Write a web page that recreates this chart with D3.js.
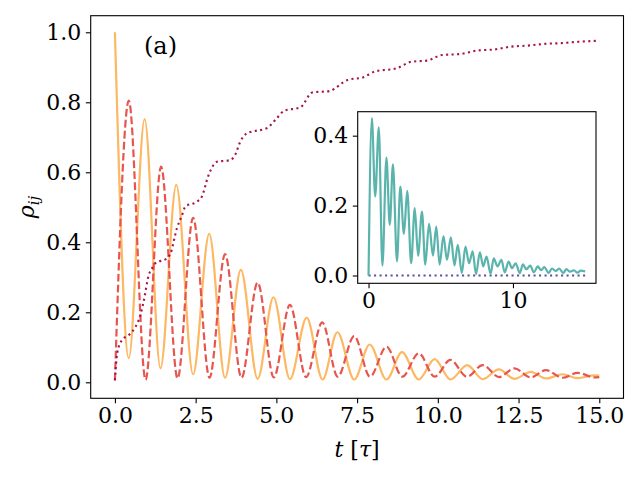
<!DOCTYPE html>
<html>
<head>
<meta charset="utf-8">
<script src="https://cdn.jsdelivr.net/npm/d3@7"></script>
<style>
  body { margin: 0; background: #fff; }
  svg { display: block; }
  text { font-family: "DejaVu Serif", serif; fill: #000; }
</style>
</head>
<body>
<script>
// main panel: populations (t, value)
var siteA = [ // solid orange
  [0, 1.0], [0.43, 0.069], [0.92, 0.752], [1.41, 0.040], [1.90, 0.564], [2.42, 0.023],
  [2.92, 0.424], [3.41, 0.013], [3.90, 0.321], [4.42, 0.010], [4.91, 0.243], [5.42, 0.009],
  [5.94, 0.185], [6.43, 0.008], [6.89, 0.143], [7.41, 0.008], [7.89, 0.108], [8.41, 0.008],
  [8.89, 0.086], [9.41, 0.008], [9.90, 0.066], [10.39, 0.008], [10.91, 0.049], [11.39, 0.009],
  [11.89, 0.037], [12.37, 0.010], [12.88, 0.030], [13.35, 0.011], [13.86, 0.023], [14.33, 0.012],
  [14.85, 0.020], [15.0, 0.019]
];
var siteB = [ // dashed red
  [0, 0.005], [0.43, 0.805], [0.95, 0.007], [1.43, 0.616], [1.94, 0.011], [2.42, 0.470],
  [2.93, 0.013], [3.41, 0.366], [3.92, 0.013], [4.42, 0.285], [4.92, 0.014], [5.42, 0.221],
  [5.92, 0.015], [6.42, 0.171], [6.90, 0.016], [7.41, 0.132], [7.90, 0.016], [8.41, 0.102],
  [8.90, 0.016], [9.41, 0.083], [9.90, 0.016], [10.39, 0.064], [10.90, 0.016], [11.39, 0.049],
  [11.90, 0.015], [12.37, 0.040], [12.88, 0.014], [13.35, 0.035], [13.86, 0.013], [14.33, 0.027],
  [14.86, 0.014], [15.0, 0.015]
];
var sink = [ // dotted crimson
  [0, 0.006], [0.07, 0.083], [0.22, 0.121], [0.43, 0.135], [0.64, 0.159], [0.79, 0.192],
  [0.89, 0.231], [1.05, 0.307], [1.15, 0.326], [1.25, 0.340], [1.61, 0.354], [1.72, 0.368],
  [1.92, 0.440], [2.08, 0.478], [2.18, 0.502], [2.54, 0.516], [2.69, 0.530], [2.90, 0.592],
  [3.16, 0.630], [3.57, 0.635], [3.72, 0.649], [3.88, 0.687], [4.08, 0.711], [4.24, 0.716],
  [4.70, 0.726], [5.02, 0.755], [5.23, 0.775], [5.75, 0.786], [6.11, 0.828], [6.64, 0.832],
  [7.21, 0.864], [7.68, 0.871], [8.05, 0.888], [8.72, 0.897], [9.19, 0.916], [9.66, 0.919],
  [10.13, 0.935], [10.70, 0.938], [11.23, 0.948], [11.75, 0.951], [12.27, 0.959], [12.79, 0.962],
  [13.31, 0.967], [13.83, 0.969], [14.36, 0.973], [15.0, 0.976]
];
// inset: coherence and a flat zero line
var coherence = [
  [0, 0.0], [0.23, 0.450], [0.46, 0.226], [0.71, 0.424], [0.96, 0.028], [1.24, 0.337],
  [1.47, 0.145], [1.69, 0.318], [1.97, 0.040], [2.20, 0.254], [2.45, 0.119], [2.68, 0.242],
  [2.95, 0.035], [3.20, 0.193], [3.43, 0.056], [3.70, 0.183], [3.93, 0.031], [4.19, 0.148],
  [4.46, 0.057], [4.69, 0.140], [4.92, 0.031], [5.19, 0.113], [5.43, 0.045], [5.70, 0.109],
  [5.95, 0.029], [6.18, 0.088], [6.46, 0.007], [6.71, 0.083], [6.96, 0.035], [7.21, 0.069],
  [7.44, 0.004], [7.71, 0.066], [7.94, 0.026], [8.17, 0.054], [8.45, 0.005], [8.67, 0.049],
  [8.93, 0.026], [9.20, 0.045], [9.43, 0.009], [9.70, 0.040], [9.93, 0.021], [10.19, 0.035],
  [10.47, 0.007], [10.69, 0.032], [10.92, 0.018], [11.20, 0.028], [11.45, 0.009], [11.72, 0.026],
  [11.95, 0.015], [12.17, 0.024], [12.47, 0.007], [12.70, 0.020], [12.97, 0.013], [13.20, 0.020],
  [13.48, 0.007], [13.70, 0.018], [13.95, 0.011], [14.23, 0.015], [14.46, 0.008], [14.70, 0.014],
  [15.0, 0.012]
];
var zeroLine = [[0, 0], [15, 0]];

var xTicks = [0, 2.5, 5, 7.5, 10, 12.5, 15];
var yTicks = [0, 0.2, 0.4, 0.6, 0.8, 1.0];
var insetXTicks = [0, 10];
var insetYTicks = [0, 0.2, 0.4];

var width = 640, height = 480;
var svg = d3.select("body").append("svg")
    .attr("width", width)
    .attr("height", height);

var box = {left: 90.7, right: 623.5, top: 15.7, bottom: 398.3};
var ibox = {left: 357.7, right: 596, top: 111.7, bottom: 283.3};

var x = d3.scaleLinear().domain([-0.75, 15.75]).range([box.left, box.right]);
var y = d3.scaleLinear().domain([-0.0457, 1.0474]).range([box.bottom, box.top]);
var xi = d3.scaleLinear().domain([-0.75, 15.75]).range([ibox.left, ibox.right]);
var yi = d3.scaleLinear().domain([-0.0223, 0.4686]).range([ibox.bottom, ibox.top]);

var font_size = 22;

function drawAxes(g, b, xs, ys, xt, yt, xf, yf) {
    var gx = g.append("g")
        .attr("transform", `translate(0,${b.bottom})`)
        .call(d3.axisBottom(xs).tickValues(xt).tickFormat(xf).tickSize(4.9).tickPadding(4.5));
    var gy = g.append("g")
        .attr("transform", `translate(${b.left},0)`)
        .call(d3.axisLeft(ys).tickValues(yt).tickFormat(yf).tickSize(4.9).tickPadding(4.5));
    [gx, gy].forEach(a => {
        a.select(".domain").remove();
        a.selectAll("line").attr("stroke", "#000").attr("stroke-width", 1.1);
        a.selectAll("text")
            .style("font-family", "'DejaVu Serif', serif")
            .style("font-size", font_size + "px")
            .attr("fill", "#000");
    });
    g.append("rect")
        .attr("x", b.left).attr("y", b.top)
        .attr("width", b.right - b.left).attr("height", b.bottom - b.top)
        .attr("fill", "none").attr("stroke", "#000").attr("stroke-width", 1.1);
}

var main = svg.append("g");
var line = d3.line().x(d => x(d[0])).y(d => y(d[1])).curve(d3.curveMonotoneX);

main.append("path").datum(siteA)
    .attr("d", line).attr("fill", "none")
    .attr("stroke", "#fdb863").attr("stroke-width", 2.2);
main.append("path").datum(siteB)
    .attr("d", line).attr("fill", "none")
    .attr("stroke", "#e8554e").attr("stroke-width", 2.2)
    .attr("stroke-dasharray", "7.7,3.3");
main.append("path").datum(sink)
    .attr("d", line).attr("fill", "none")
    .attr("stroke", "#a8124f").attr("stroke-width", 2.1)
    .attr("stroke-dasharray", "2.1,3.4");

drawAxes(main, box, x, y, xTicks, yTicks, d3.format(".1f"), d3.format(".1f"));

main.append("text")
    .attr("x", 144).attr("y", 54)
    .style("font-size", "24px")
    .text("(a)");

// axis labels
var xl = main.append("text")
    .attr("x", (box.left + box.right) / 2).attr("y", 457)
    .attr("text-anchor", "middle")
    .style("font-size", "22px");
xl.append("tspan").style("font-style", "italic").text("t");
xl.append("tspan").text(" [");
xl.append("tspan").style("font-style", "italic").text("τ");
xl.append("tspan").text("]");

var yl = main.append("text")
    .attr("transform", `translate(34,${(box.top + box.bottom) / 2}) rotate(-90)`)
    .attr("text-anchor", "middle")
    .style("font-size", "22px");
yl.append("tspan").style("font-style", "italic").text("ρ");
yl.append("tspan").style("font-style", "italic").style("font-size", "15px")
    .attr("dy", 5).text("ij");

// inset
var inset = svg.append("g");
inset.append("rect")
    .attr("x", ibox.left).attr("y", ibox.top)
    .attr("width", ibox.right - ibox.left).attr("height", ibox.bottom - ibox.top)
    .attr("fill", "#fff");
var iline = d3.line().x(d => xi(d[0])).y(d => yi(d[1])).curve(d3.curveMonotoneX);
inset.append("path").datum(zeroLine)
    .attr("d", iline).attr("fill", "none")
    .attr("stroke", "#5e4fa2").attr("stroke-width", 2.1)
    .attr("stroke-dasharray", "2.1,3.4");
inset.append("path").datum(coherence)
    .attr("d", iline).attr("fill", "none")
    .attr("stroke", "#5ab4ac").attr("stroke-width", 2.2);

drawAxes(inset, ibox, xi, yi, insetXTicks, insetYTicks, d3.format("d"), d3.format(".1f"));
</script>
</body>
</html>
